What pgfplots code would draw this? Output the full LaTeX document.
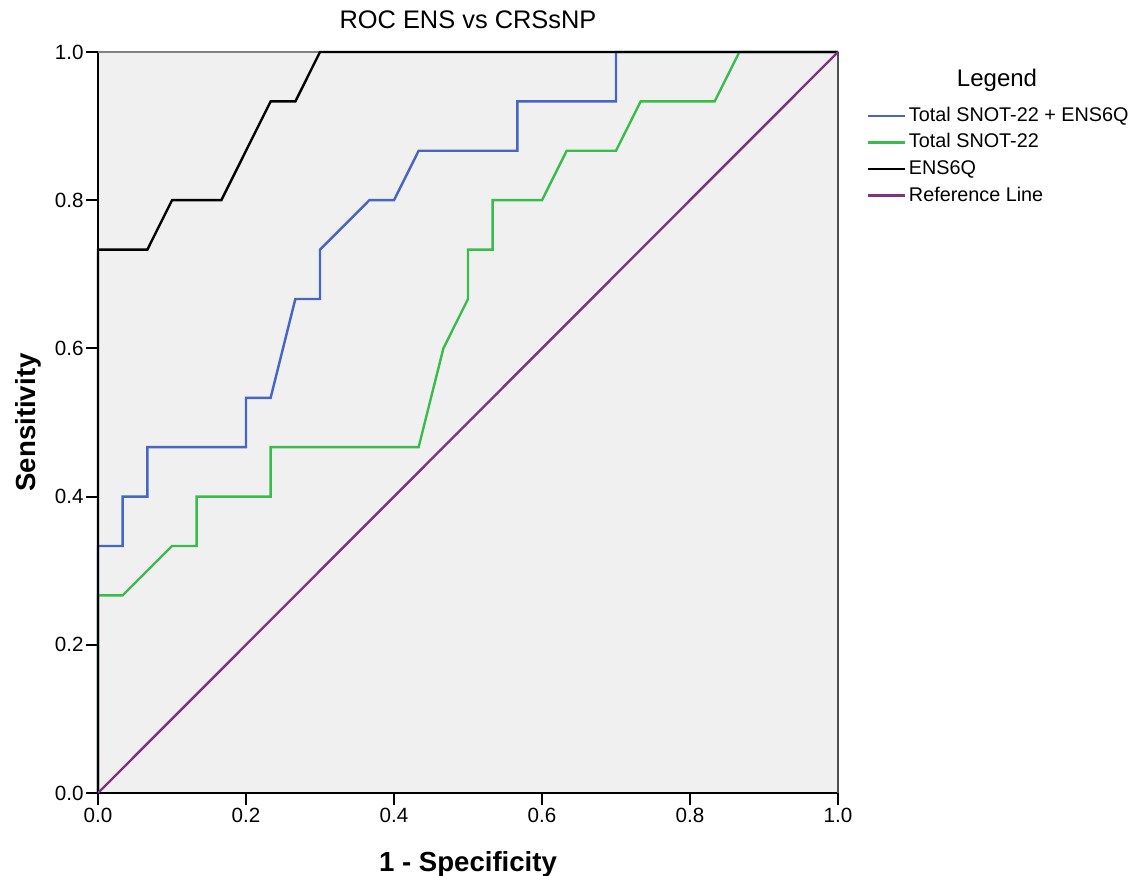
\documentclass[border=0pt]{standalone}
\usepackage{fontspec}
\setmainfont{Liberation Sans}
\usepackage{pgfplots}
\pgfplotsset{compat=1.18}
\usetikzlibrary{calc}
\definecolor{rocblue}{RGB}{70,102,192}
\definecolor{rocgreen}{RGB}{58,188,76}
\definecolor{rocpurple}{RGB}{130,48,130}
\definecolor{bgray}{RGB}{240,240,240}
\definecolor{topgray}{RGB}{130,130,130}
\definecolor{rightgray}{RGB}{80,80,80}
\begin{document}
\begin{tikzpicture}
\begin{axis}[
  scale only axis, width=370pt, height=370.5pt,
  xmin=0, xmax=1, ymin=0, ymax=1,
  clip=false,
  axis background/.style={fill=bgray},
  axis x line*=bottom, axis y line*=left,
  axis line style={-, black, line width=1pt},
  tick align=outside, major tick length=6pt,
  tick style={black, line width=1pt},
  xtick={0,0.2,0.4,0.6,0.8,1}, ytick={0,0.2,0.4,0.6,0.8,1},
  minor tick num=0,
  /pgf/number format/.cd, fixed, fixed zerofill, precision=1, assume math mode=true, /pgfplots/.cd,
  ticklabel style={font=\fontsize{10.3}{12}\selectfont},
  xticklabel style={inner sep=1.5pt},
  yticklabel style={inner sep=1pt},
  title={ROC ENS vs CRSsNP},
  title style={at={(axis description cs:0.5,1.0149)}, anchor=base, font=\fontsize{12.7}{15}\selectfont, inner sep=0pt},
  xlabel={1 - Specificity},
  xlabel style={at={(axis description cs:0.5,-0.1053)}, anchor=base, font=\fontsize{13.8}{16}\selectfont\bfseries, inner sep=0pt},
  ylabel={Sensitivity},
  ylabel style={at={(axis description cs:-0.0851,0.5)}, anchor=base, font=\fontsize{13.8}{16}\selectfont\bfseries, inner sep=0pt},
  legend style={at={(axis description cs:1.0378,0.9325)}, anchor=north west, draw=none, fill=none, inner sep=0pt, row sep=0pt, column sep=0pt, font=\fontsize{9.9}{12}\selectfont, nodes={inner xsep=1.6pt, inner ysep=1.4pt, text height=8pt, text depth=2.5pt}},
  legend cell align=left,
  legend image code/.code={\draw[#1] (0pt,0pt) -- (18.5pt,0pt);},
]
\draw[topgray, line width=0.8pt] (rel axis cs:0,1) -- (rel axis cs:1,1);
\draw[rightgray, line width=1pt] (rel axis cs:1,1) -- (rel axis cs:1,0);

\addplot[rocblue, line width=1.2pt] coordinates {
(0,0)(0,0.3333)(0.0333,0.3333)(0.0333,0.4)(0.0667,0.4)(0.0667,0.4667)(0.2,0.4667)(0.2,0.5333)(0.2333,0.5333)(0.2667,0.6667)(0.3,0.6667)(0.3,0.7333)(0.3667,0.8)(0.4,0.8)(0.4333,0.8667)(0.5667,0.8667)(0.5667,0.9333)(0.7,0.9333)(0.7,1)(1,1)
};
\addlegendentry{Total SNOT-22 + ENS6Q}
\addplot[rocgreen, line width=1.2pt] coordinates {
(0,0)(0,0.2667)(0.0333,0.2667)(0.1,0.3333)(0.1333,0.3333)(0.1333,0.4)(0.2333,0.4)(0.2333,0.4667)(0.4333,0.4667)(0.4667,0.6)(0.5,0.6667)(0.5,0.7333)(0.5333,0.7333)(0.5333,0.8)(0.6,0.8)(0.6333,0.8667)(0.7,0.8667)(0.7333,0.9333)(0.8333,0.9333)(0.8667,1)(1,1)
};
\addlegendentry{Total SNOT-22}
\addplot[black, line width=1.2pt] coordinates {
(0,0)(0,0.7333)(0.0667,0.7333)(0.1,0.8)(0.1667,0.8)(0.2333,0.9333)(0.2667,0.9333)(0.3,1)(1,1)
};
\addlegendentry{ENS6Q}
\addplot[rocpurple, line width=1.2pt] coordinates {(0,0)(1,1)};
\addlegendentry{Reference Line}

\node[font=\fontsize{12}{14}\selectfont] at (rel axis cs:1.2149,0.962) {Legend};
\end{axis}
\pgfresetboundingbox
\path[use as bounding box] ($(current axis.south west)+(-49pt,-41.5pt)$) rectangle ($(current axis.north east)+(146pt,26pt)$);
\end{tikzpicture}
\end{document}
